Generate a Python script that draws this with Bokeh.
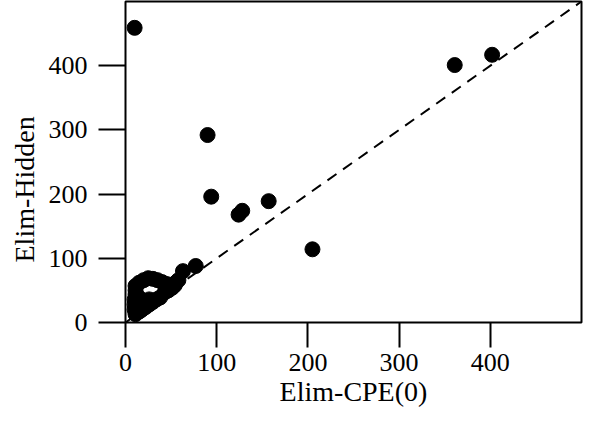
from bokeh.plotting import figure
from bokeh.models import FixedTicker, ColumnDataSource, Title
from bokeh.embed import file_html
from bokeh.resources import INLINE

# --- data ---
elim_cpe0 = [10, 90, 94, 124, 128, 157, 205, 361, 402, 77, 63,
             11, 15, 20, 25, 30, 35, 40, 45,
             50, 55, 58,
             11, 15, 18, 22, 26, 30, 34, 38, 43, 47, 51, 54,
             10, 10, 10, 11, 11,
             14, 14, 14, 18, 18, 22, 26]
elim_hidden = [459, 292, 196, 168, 174, 189, 114, 401, 417, 88, 80,
               57, 62, 66, 69, 68, 66, 63, 60,
               58, 62, 66,
               13, 17, 20, 24, 28, 32, 36, 39, 47, 50, 54, 58,
               20, 28, 36, 44, 50,
               24, 32, 40, 28, 35, 32, 36]
diag_x = [0, 500]
diag_y = [0, 500]
ticks = [0, 100, 200, 300, 400]
x_label = "Elim-CPE(0)"
y_label = "Elim-Hidden"

FONT = "Liberation Serif"

p = figure(width=584, height=409, x_range=(0, 500), y_range=(0, 500),
           output_backend="svg", toolbar_location=None,
           min_border_left=10, min_border_right=3, min_border_top=1,
           min_border_bottom=10)
p.background_fill_color = "white"
p.border_fill_color = "white"
p.outline_line_color = "black"
p.outline_line_width = 2
p.grid.visible = False

p.line(diag_x, diag_y, line_color="black", line_width=2, line_dash="11 8")
src = ColumnDataSource(dict(x=elim_cpe0, y=elim_hidden))
p.scatter("x", "y", source=src, size=15, fill_color="black", line_color="black")

for ax in (p.xaxis[0], p.yaxis[0]):
    ax.ticker = FixedTicker(ticks=ticks)
    ax.axis_line_color = None
    ax.major_tick_line_color = "black"
    ax.major_tick_line_width = 2
    ax.major_tick_in = 0
    ax.minor_tick_line_color = None
    ax.major_label_text_font = FONT
    ax.major_label_text_font_size = "26px"
    ax.major_label_text_color = "black"
    ax.axis_label_text_font = FONT
    ax.axis_label_text_font_size = "28px"
    ax.axis_label_text_font_style = "normal"
    ax.axis_label_text_color = "black"

p.xaxis.axis_label = x_label
p.xaxis.major_tick_out = 25
p.yaxis.major_tick_out = 27
p.xaxis.major_label_standoff = 6
p.yaxis.major_label_standoff = 11
p.xaxis.axis_label_standoff = 2

# y axis title, a little below the frame centre as in the reference
ytitle = Title(text=y_label, align="left", offset=60, standoff=12,
               text_font=FONT, text_font_size="28px",
               text_font_style="normal", text_color="black")
p.add_layout(ytitle, "left")

open("out.html", "w").write(file_html(p, INLINE))
